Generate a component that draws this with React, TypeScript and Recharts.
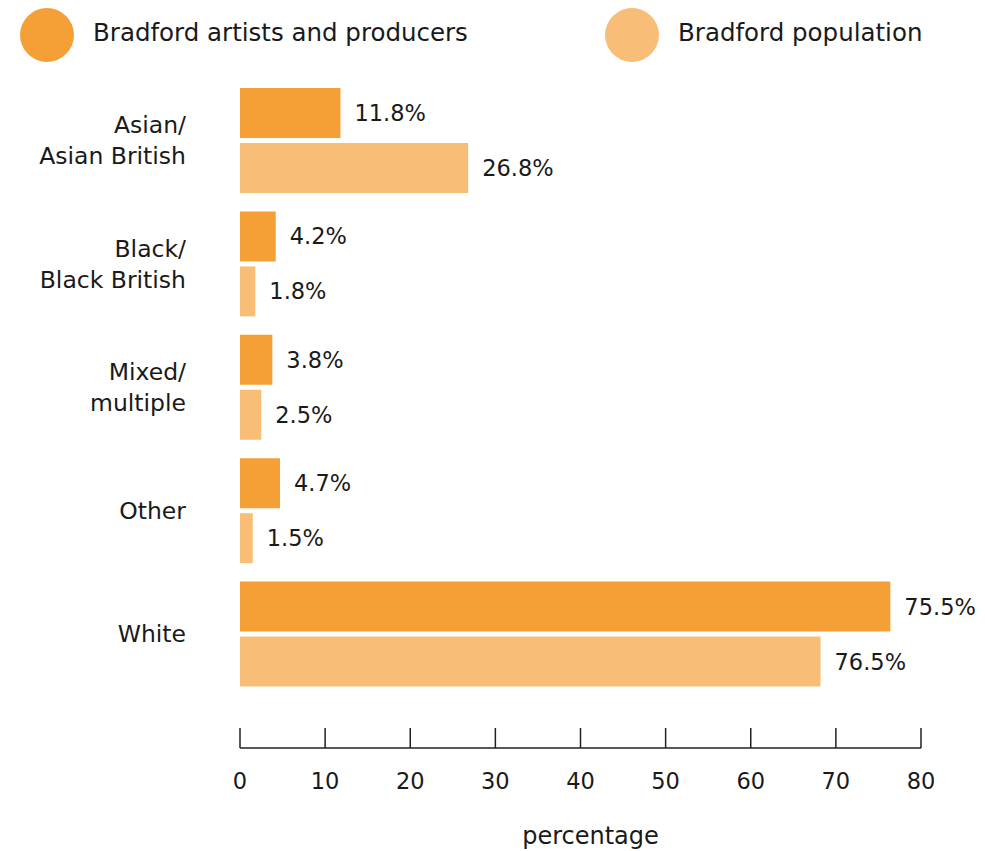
import { BarChart, Bar, XAxis, YAxis, LabelList } from "recharts";

const categories = ["Asian/\nAsian British", "Black/\nBlack British", "Mixed/\nmultiple", "Other", "White"];
// bar lengths as drawn in the source picture
const artists = [11.8, 4.2, 3.8, 4.7, 76.4];
const population = [26.8, 1.8, 2.5, 1.5, 68.2];
// printed value labels
const artistsLabels = ["11.8%", "4.2%", "3.8%", "4.7%", "75.5%"];
const populationLabels = ["26.8%", "1.8%", "2.5%", "1.5%", "76.5%"];
const xTicks = [0, 10, 20, 30, 40, 50, 60, 70, 80];

const DARK = "#F4A036";
const LIGHT = "#F8BE77";
const FONT = "'DejaVu Sans', sans-serif";
const TEXT = "#1a1a1a";

const data = categories.map((c, i) => ({
  name: c,
  artists: artists[i],
  population: population[i],
  artistsLabel: artistsLabels[i],
  populationLabel: populationLabels[i],
}));

function CategoryTick({ x, y, payload }: any) {
  const lines = String(payload.value).split("\n");
  const lh = 31;
  const start = -((lines.length - 1) * lh) / 2;
  return (
    <text x={x} y={y} textAnchor="end" fontSize={23.5} fontFamily={FONT} fill={TEXT} dominantBaseline="central">
      {lines.map((l, i) => (
        <tspan key={i} x={x} y={y + start + i * lh}>
          {l}
        </tspan>
      ))}
    </text>
  );
}

function ValueTick({ x, y, payload }: any) {
  return (
    <g>
      <line x1={x} x2={x} y1={y - 20} y2={y} stroke="#222" strokeWidth={1.5} />
      <text x={x} y={y + 41} textAnchor="middle" fontSize={22.5} fontFamily={FONT} fill={TEXT}>
        {payload.value}
      </text>
    </g>
  );
}

function LegendItem({ color, label, left }: { color: string; label: string; left: number }) {
  return (
    <div style={{ position: "absolute", left, top: 8, display: "flex", alignItems: "center", whiteSpace: "nowrap" }}>
      <span style={{ width: 54, height: 54, borderRadius: "50%", background: color, display: "inline-block" }} />
      <span style={{ marginLeft: 19, fontSize: 24.5, fontFamily: FONT, color: TEXT, marginTop: -5 }}>{label}</span>
    </div>
  );
}

export default function App() {
  return (
    <div style={{ position: "absolute", left: 0, top: 0, width: 985, height: 851, background: "#fff" }}>
      <LegendItem color={DARK} label="Bradford artists and producers" left={20} />
      <LegendItem color={LIGHT} label="Bradford population" left={605} />
      <BarChart
        width={985}
        height={851}
        data={data}
        layout="vertical"
        margin={{ top: 79, right: 64, left: 0, bottom: 0 }}
        barSize={50}
        barGap={5}
      >
        <XAxis
          type="number"
          domain={[0, 80]}
          ticks={xTicks}
          tick={<ValueTick />}
          tickLine={false}
          tickSize={0}
          tickMargin={0}
          axisLine={{ stroke: "#222", strokeWidth: 1.5 }}
          height={103}
          label={{ value: "percentage", position: "insideBottom", offset: 7, dx: 10, fontSize: 24, fontFamily: FONT, fill: TEXT }}
        />
        <YAxis
          type="category"
          dataKey="name"
          width={240}
          axisLine={false}
          tickLine={false}
          tickSize={0}
          tickMargin={54}
          tick={<CategoryTick />}
          padding={{ top: 0, bottom: 52 }}
        />
        <Bar dataKey="artists" fill={DARK} isAnimationActive={false}>
          <LabelList dataKey="artistsLabel" position="right" offset={14} fontSize={22.5} fontFamily={FONT} fill={TEXT} />
        </Bar>
        <Bar dataKey="population" fill={LIGHT} isAnimationActive={false}>
          <LabelList dataKey="populationLabel" position="right" offset={14} fontSize={22.5} fontFamily={FONT} fill={TEXT} />
        </Bar>
      </BarChart>
    </div>
  );
}
